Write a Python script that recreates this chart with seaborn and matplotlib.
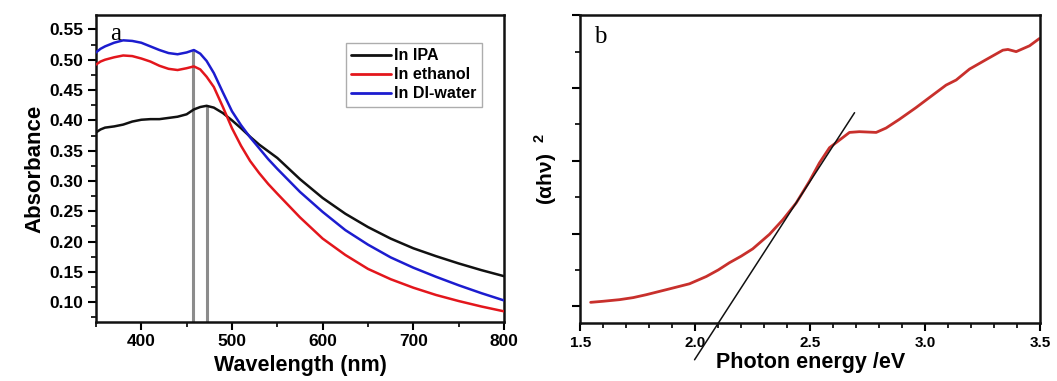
import matplotlib
matplotlib.use("Agg")
import matplotlib.pyplot as plt
import seaborn as sns
import pandas as pd
from matplotlib.ticker import MultipleLocator

sns.set_theme(style="ticks")
plt.rcParams['font.family'] = ['Liberation Sans', 'DejaVu Sans']
plt.rcParams['text.color'] = 'black'
plt.rcParams['axes.labelcolor'] = 'black'
plt.rcParams['xtick.color'] = 'black'
plt.rcParams['ytick.color'] = 'black'
plt.rcParams['mathtext.fontset'] = 'custom'
plt.rcParams['mathtext.rm'] = 'Liberation Sans:bold'
plt.rcParams['mathtext.bf'] = 'Liberation Sans:bold'

# ---- Panel a data ----
wavelength = [350, 355, 360, 370, 380, 390, 400, 410, 420, 430, 440, 450, 458, 465, 472,
              480, 490, 500, 510, 520, 530, 540, 550, 575, 600, 625, 650, 675, 700, 725,
              750, 775, 800]
abs_ipa = [0.380, 0.385, 0.388, 0.390, 0.393, 0.398, 0.401, 0.402, 0.402, 0.404, 0.406,
           0.410, 0.418, 0.422, 0.424, 0.421, 0.412, 0.400, 0.387, 0.373, 0.360, 0.349,
           0.338, 0.303, 0.272, 0.246, 0.224, 0.205, 0.189, 0.176, 0.164, 0.153, 0.143]
abs_ethanol = [0.492, 0.497, 0.500, 0.504, 0.507, 0.506, 0.502, 0.497, 0.490, 0.485, 0.483,
               0.486, 0.489, 0.484, 0.472, 0.455, 0.422, 0.387, 0.358, 0.333, 0.313, 0.295,
               0.279, 0.240, 0.205, 0.178, 0.155, 0.138, 0.124, 0.112, 0.102, 0.093, 0.085]
abs_water = [0.512, 0.518, 0.522, 0.528, 0.532, 0.531, 0.528, 0.522, 0.516, 0.511, 0.509,
             0.512, 0.516, 0.510, 0.498, 0.478, 0.446, 0.415, 0.392, 0.372, 0.354, 0.336,
             0.320, 0.282, 0.249, 0.219, 0.195, 0.174, 0.157, 0.142, 0.128, 0.115, 0.103]
series_names = ["In IPA", "In ethanol", "In DI-water"]
series_colors = ["#111111", "#e3161c", "#1c1ccf"]
marker_nm = [457, 472]
marker_top = [0.516, 0.424]

# ---- Panel b data ----
energy = [1.545, 1.60, 1.671, 1.73, 1.787, 1.888, 1.975, 2.048, 2.10, 2.149, 2.20, 2.25,
          2.323, 2.381, 2.439, 2.497, 2.54, 2.584, 2.613, 2.671, 2.714, 2.787, 2.83, 2.888,
          2.96, 3.019, 3.091, 3.135, 3.193, 3.265, 3.338, 3.36, 3.396, 3.454, 3.497]
ahv2 = [0.055, 0.070, 0.092, 0.120, 0.160, 0.240, 0.310, 0.410, 0.500, 0.600, 0.690, 0.790,
        0.990, 1.190, 1.420, 1.720, 1.970, 2.180, 2.250, 2.390, 2.400, 2.390, 2.450, 2.570,
        2.730, 2.870, 3.040, 3.110, 3.260, 3.390, 3.520, 3.530, 3.500, 3.580, 3.680]
tangent_x = [1.997, 2.693]
tangent_y = [-0.734, 2.661]

df_a = pd.DataFrame({
    "Wavelength": wavelength * 3,
    "Absorbance": abs_ipa + abs_ethanol + abs_water,
    "Solvent": [n for n in series_names for _ in wavelength],
})
df_b = pd.DataFrame({"Energy": energy, "ahv2": ahv2})

fig = plt.figure(figsize=(10.57, 3.81), dpi=100)
ax1 = fig.add_axes([0.0908, 0.155, 0.386, 0.806])
ax2 = fig.add_axes([0.549, 0.152, 0.435, 0.808])

bold = dict(fontweight="bold")

# Panel a
ax1.vlines(marker_nm, 0.0675, marker_top, colors="#8c8c8c", linewidth=2.2, zorder=1)
sns.lineplot(data=df_a, x="Wavelength", y="Absorbance", hue="Solvent",
             palette=dict(zip(series_names, series_colors)), linewidth=1.8, ax=ax1, zorder=3)
ax1.set_xlim(350, 800)
ax1.set_ylim(0.0675, 0.574)
ax1.xaxis.set_major_locator(MultipleLocator(100))
ax1.xaxis.set_minor_locator(MultipleLocator(50))
ax1.yaxis.set_major_locator(MultipleLocator(0.05))
ax1.yaxis.set_minor_locator(MultipleLocator(0.025))
ax1.set_xticks([400, 500, 600, 700, 800])
yt = [0.10, 0.15, 0.20, 0.25, 0.30, 0.35, 0.40, 0.45, 0.50, 0.55]
ax1.set_yticks(yt)
ax1.set_yticklabels([f"{v:.2f}" for v in yt])
ax1.set_xlabel("Wavelength (nm)", fontsize=15.5, labelpad=4, **bold)
ax1.set_ylabel("Absorbance", fontsize=16, labelpad=3, **bold)
ax1.text(0.035, 0.975, "a", transform=ax1.transAxes, fontsize=18,
         family="Liberation Serif", va="top", ha="left")
leg = ax1.legend(loc="upper right", bbox_to_anchor=(0.965, 0.935),
                 frameon=True, fancybox=False, handlelength=2.5, handletextpad=0.15,
                 labelspacing=0.25, borderpad=0.35, prop=dict(weight="bold", size=11.5))
leg.get_frame().set_edgecolor("#999999")
leg.get_frame().set_linewidth(1.0)
for lh in leg.get_lines():
    lh.set_linewidth(2)
for t in leg.get_texts():
    t.set_color("black")

# Panel b
sns.lineplot(data=df_b, x="Energy", y="ahv2", color="#c8302c", linewidth=2.0, ax=ax2)
ax2.plot(tangent_x, tangent_y, color="#111111", linewidth=1.1, clip_on=False, zorder=4)
ax2.set_xlim(1.5, 3.5)
ax2.set_ylim(-0.23, 4.0)
ax2.xaxis.set_major_locator(MultipleLocator(0.5))
ax2.xaxis.set_minor_locator(MultipleLocator(0.1))
ax2.yaxis.set_major_locator(MultipleLocator(1.0))
ax2.yaxis.set_minor_locator(MultipleLocator(0.5))
ax2.set_yticks([0, 1, 2, 3, 4])
ax2.set_yticklabels([])
ax2.set_xticks([1.5, 2.0, 2.5, 3.0, 3.5])
ax2.set_xticklabels(["1.5", "2.0", "2.5", "3.0", "3.5"])
ax2.set_xlabel("Photon energy /eV", fontsize=15.5, labelpad=2, **bold)
ax2.set_ylabel(r"(αhν)  $^{\mathbf{2}}$", fontsize=15, labelpad=6, **bold)
ax2.text(0.03, 0.965, "b", transform=ax2.transAxes, fontsize=18,
         family="Liberation Serif", va="top", ha="left")

for ax, tsize in ((ax1, 12.5), (ax2, 11)):
    for s in ax.spines.values():
        s.set_linewidth(1.8)
        s.set_color("#111111")
    ax.tick_params(which="major", direction="out", length=6, width=1.5,
                   labelsize=tsize, top=False, right=False, pad=3, colors="black")
    ax.tick_params(which="minor", direction="out", length=3.5, width=1.2,
                   top=False, right=False, colors="black")
    for lab in ax.get_xticklabels() + ax.get_yticklabels():
        lab.set_fontweight("bold")

fig.savefig("out.png", dpi=100)
